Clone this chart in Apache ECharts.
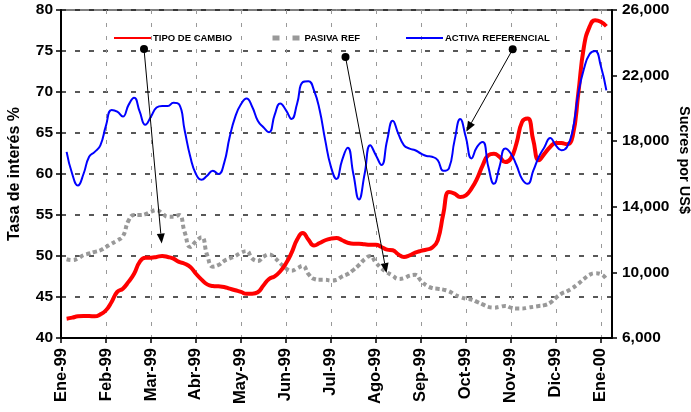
<!DOCTYPE html>
<html>
<head>
<meta charset="utf-8">
<title>Tasas de interés y tipo de cambio 1999</title>
<script src="https://cdn.jsdelivr.net/npm/echarts@6/dist/echarts.min.js"></script>
<style>
html, body { margin: 0; padding: 0; background: #fff; }
#chart { width: 691px; height: 412px; }
</style>
</head>
<body>
<div id="chart"></div>
<script>
// x axis: one label per month, 8 readings per month in between
var months = ["Ene-99", "Feb-99", "Mar-99", "Abr-99", "May-99", "Jun-99", "Jul-99",
	"Ago-99", "Sep-99", "Oct-99", "Nov-99", "Dic-99", "Ene-00"];
var stepsPerMonth = 8;
var slots = 99;

// tipo de cambio, sucres por US$ (right axis)
var tipoCambio = [7180, 7240, 7320, 7340, 7340, 7320, 7440, 7690, 8200, 8810,
	9010, 9420, 9920, 10640, 10900, 10900, 10940, 11000, 10940, 10840,
	10640, 10530, 10330, 9920, 9560, 9270, 9170, 9150, 9110, 9010,
	8910, 8810, 8700, 8700, 8790, 9200, 9600, 9760, 10070, 10540,
	11190, 12000, 12400, 12000, 11640, 11790, 11960, 12060, 12100, 11960,
	11810, 11750, 11750, 11710, 11690, 11690, 11550, 11390, 11350, 11100,
	10940, 11040, 11200, 11310, 11390, 11510, 11960, 13580, 14900, 14800,
	14600, 14700, 15110, 15720, 16530, 17140, 17240, 17040, 16730, 16940,
	17850, 19170, 19380, 18060, 16840, 17240, 17650, 17890, 17890, 17810,
	18300, 20900, 23750, 24970, 25380, 25280, 25010];

// tasa pasiva referencial, % (left axis)
var pasivaRef = [49.6, 49.5, 49.7, 50.1, 50.3, 50.5, 50.7, 51.1, 51.5, 51.9,
	52.4, 54.3, 55.0, 55.0, 55.1, 55.4, 55.6, 55.2, 54.8, 54.8,
	55.0, 52.9, 51.1, 51.8, 52.3, 50.1, 48.7, 48.9, 49.4, 49.7,
	50.0, 50.4, 50.6, 49.7, 49.4, 49.9, 50.2, 49.8, 49.1, 48.5,
	48.2, 48.5, 48.8, 47.8, 47.2, 47.1, 47.1, 47.0, 47.1, 47.5,
	47.8, 48.3, 48.9, 49.6, 50.0, 49.2, 48.5, 48.0, 47.6, 47.2,
	47.3, 47.6, 47.7, 47.0, 46.4, 46.1, 46.0, 45.9, 45.7, 45.3,
	45.0, 44.8, 44.7, 44.4, 44.1, 43.8, 43.7, 43.8, 43.9, 43.7,
	43.6, 43.6, 43.7, 43.8, 43.9, 44.0, 44.3, 44.9, 45.4, 45.7,
	46.1, 46.6, 47.2, 47.7, 47.9, 47.8, 47.2];

// tasa activa referencial, % (left axis)
var activaRef = [62.7, 60.0, 58.6, 60.0, 62.1, 62.7, 63.5, 65.9, 67.8, 67.6,
	67.0, 68.4, 69.3, 67.6, 66.0, 67.0, 68.1, 68.3, 68.3, 68.7,
	68.5, 65.3, 62.1, 60.0, 59.3, 59.8, 60.4, 60.0, 61.3, 64.5,
	67.0, 68.5, 69.2, 68.2, 66.5, 65.7, 65.1, 67.2, 68.6, 67.8,
	66.7, 68.6, 71.2, 71.3, 70.2, 67.8, 64.1, 60.9, 59.4, 61.7,
	63.2, 60.0, 56.9, 60.0, 63.5, 62.3, 61.1, 64.1, 66.5, 64.9,
	63.5, 63.1, 62.9, 62.5, 62.2, 62.1, 61.7, 60.4, 60.7, 64.1,
	66.7, 64.5, 61.9, 63.3, 63.9, 60.9, 58.8, 60.9, 63.1, 62.5,
	61.1, 59.4, 58.8, 60.4, 62.1, 63.3, 64.4, 63.5, 62.9, 63.3,
	65.3, 69.8, 72.8, 74.6, 75.0, 73.2, 70.2];

var font = "Liberation Sans";

var categories = [];
for (var i = 0; i < slots; i++) {
	categories.push(i % stepsPerMonth === 0 && months[i / stepsPerMonth] ? months[i / stepsPerMonth] : "");
}

// readings start one slot after the first tick
function pad(arr) {
	var out = [null].concat(arr);
	while (out.length < slots) out.push(null);
	return out;
}

function arrow(x1, y1, x2, y2) {
	var ang = Math.atan2(y2 - y1, x2 - x1);
	var len = 10, half = 4;
	var bx = x2 - len * Math.cos(ang), by = y2 - len * Math.sin(ang);
	var px = -Math.sin(ang) * half, py = Math.cos(ang) * half;
	return [
		{ type: "line", z: 100, shape: { x1: x1, y1: y1, x2: bx, y2: by }, style: { stroke: "#000", lineWidth: 1 } },
		{ type: "polygon", z: 100, shape: { points: [[x2, y2], [bx + px, by + py], [bx - px, by - py]] }, style: { fill: "#000" } },
		{ type: "circle", z: 100, shape: { cx: x1, cy: y1, r: 4 }, style: { fill: "#000" } }
	];
}

function legendAt(left, name, width, line) {
	return {
		left: left,
		top: 33,
		padding: 0,
		itemWidth: width,
		itemHeight: 2,
		data: [name],
		itemStyle: { opacity: 0, color: "transparent", borderColor: "transparent", borderWidth: 0 },
		lineStyle: line || {},
		textStyle: { fontFamily: font, fontSize: 9.5, fontWeight: "bold", color: "#000", padding: [0, 0, 0, -3] }
	};
}

var myChart = echarts.init(document.getElementById("chart"));
var option = {
	animation: false,
	grid: {
		left: 61,
		right: 79,
		top: 10,
		bottom: 74,
		outerBoundsMode: "none",
		show: true,
		borderColor: "#000",
		borderWidth: 1
	},
	legend: [
		legendAt(113, "TIPO DE CAMBIO", 37),
		legendAt(270, "PASIVA REF", 30, { type: [7, 13], width: 5 }),
		legendAt(405, "ACTIVA REFERENCIAL", 37)
	],
	xAxis: {
		type: "category",
		data: categories,
		boundaryGap: false,
		axisLine: { lineStyle: { color: "#000", width: 2 } },
		axisTick: { interval: stepsPerMonth - 1, length: 5, lineStyle: { color: "#000", width: 1.5 } },
		axisLabel: {
			interval: stepsPerMonth - 1,
			rotate: 90,
			margin: 10,
			fontFamily: font,
			fontSize: 16.5,
			fontWeight: "bold",
			color: "#000"
		},
		splitLine: { show: true, interval: stepsPerMonth - 1, lineStyle: { color: "#999", width: 1, type: [4, 9] } }
	},
	yAxis: [
		{
			type: "value",
			position: "left",
			min: 40,
			max: 80,
			interval: 5,
			name: "Tasa de interés %",
			nameLocation: "middle",
			nameRotate: 90,
			nameGap: 38,
			nameMoveOverlap: false,
			nameTextStyle: { fontFamily: font, fontSize: 16, fontWeight: "bold", color: "#000" },
			axisLine: { show: true, lineStyle: { color: "#000", width: 2 } },
			axisTick: { show: true, length: 5, lineStyle: { color: "#000", width: 1.5 } },
			axisLabel: { margin: 8, fontFamily: font, fontSize: 15.5, fontWeight: "bold", color: "#000" },
			splitLine: { show: true, lineStyle: { color: "#222", width: 1.5, type: [5, 9] } }
		},
		{
			type: "value",
			position: "right",
			min: 6000,
			max: 26000,
			interval: 4000,
			name: "Sucres por US$",
			nameLocation: "middle",
			nameRotate: -90,
			nameGap: 64,
			nameMoveOverlap: false,
			nameTextStyle: { fontFamily: font, fontSize: 14.5, fontWeight: "bold", color: "#000", padding: [0, 28, 0, 0] },
			axisLine: { show: true, lineStyle: { color: "#000", width: 2 } },
			axisTick: { show: true, length: 5, lineStyle: { color: "#000", width: 1.5 } },
			axisLabel: {
				margin: 10,
				fontFamily: font,
				fontSize: 15.5,
				fontWeight: "bold",
				color: "#000",
				formatter: function (v) { return v.toLocaleString("en-US"); }
			},
			splitLine: { show: false }
		}
	],
	series: [
		{
			name: "PASIVA REF",
			type: "line",
			yAxisIndex: 0,
			data: pad(pasivaRef),
			smooth: true,
			symbol: "none",
			itemStyle: { color: "#999" },
			lineStyle: { color: "#999", width: 4, type: [4, 3] }
		},
		{
			name: "TIPO DE CAMBIO",
			type: "line",
			yAxisIndex: 1,
			data: pad(tipoCambio),
			smooth: true,
			symbol: "none",
			itemStyle: { color: "#ff0000" },
			lineStyle: { color: "#ff0000", width: 4 }
		},
		{
			name: "ACTIVA REFERENCIAL",
			type: "line",
			yAxisIndex: 0,
			data: pad(activaRef),
			smooth: true,
			symbol: "none",
			itemStyle: { color: "#0000ff" },
			lineStyle: { color: "#0000ff", width: 2 }
		}
	],
	graphic: [].concat(
		arrow(144, 49, 161.7, 243.5),
		arrow(345.5, 57, 386.5, 273),
		arrow(512.7, 49.3, 466.5, 131.5)
	)
};
myChart.setOption(option);
</script>
</body>
</html>
